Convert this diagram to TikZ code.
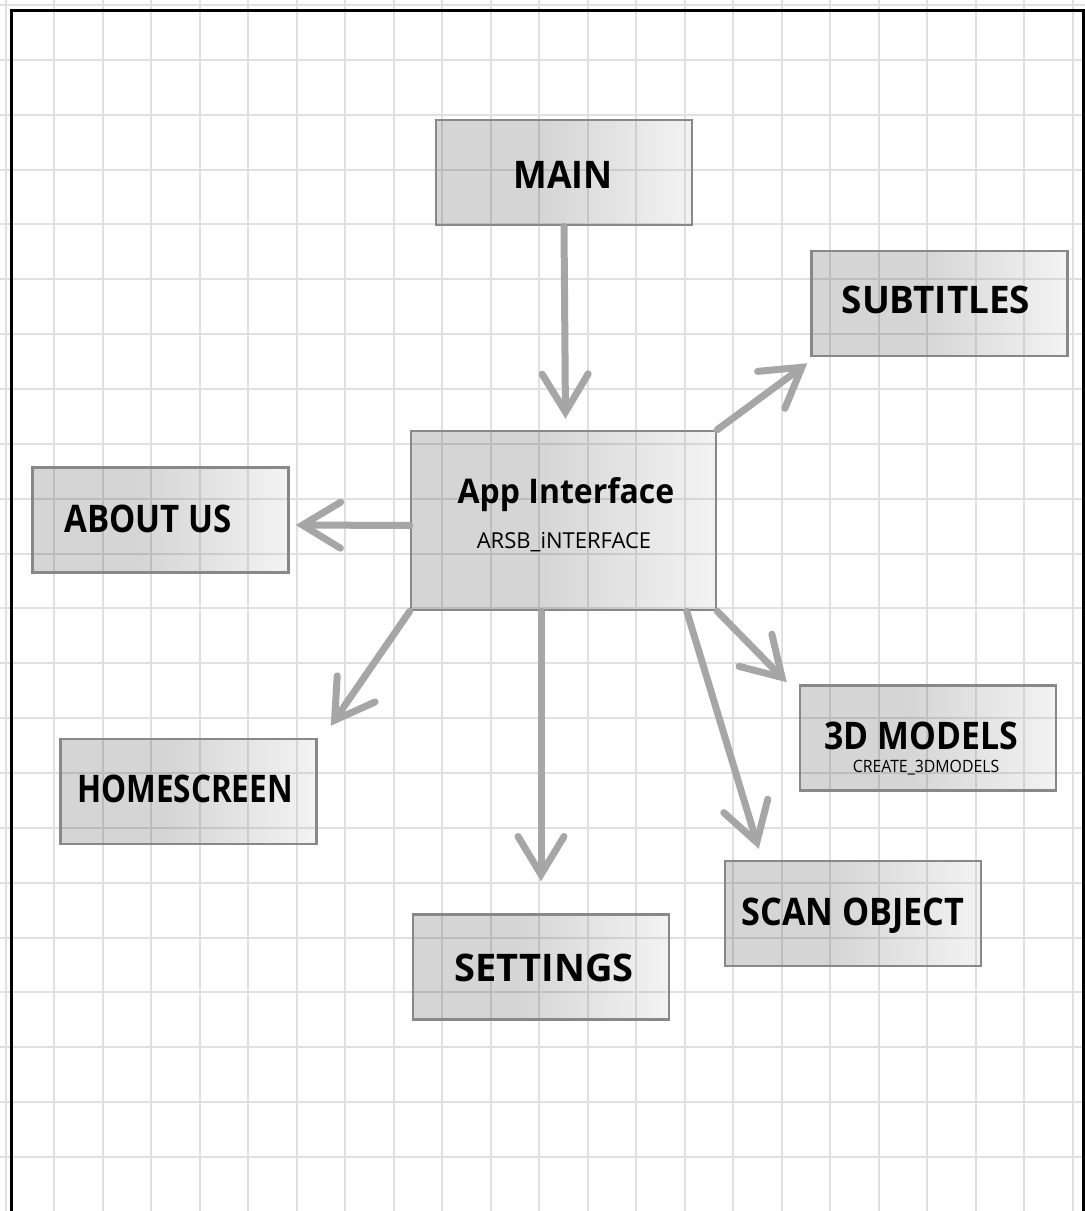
\documentclass[tikz,border=0pt]{standalone}
\usepackage{graphicx}
\usepackage{fontspec}
\setmainfont{Open Sans}
\usetikzlibrary{arrows.meta,calc}

\definecolor{gridline}{HTML}{E0E0E0}
\definecolor{boxedge}{HTML}{888888}
\definecolor{linkgray}{HTML}{A6A6A6}
\definecolor{shadeleft}{HTML}{303030}
\definecolor{shaderight}{HTML}{C4C4C4}

% horizontal gradient of the boxes: even grey, lighter towards the right edge
\pgfdeclarehorizontalshading{boxshade}{100bp}{
  color(0bp)=(shadeleft); color(25bp)=(shadeleft); color(46bp)=(shadeleft);
  color(75bp)=(shaderight); color(100bp)=(shaderight)}

% narrow a label horizontally
\newcommand{\narrow}[2]{\scalebox{#1}[1]{#2}}

\begin{document}
\begin{tikzpicture}[x=1pt,y=-1pt,
  box/.style={draw=boxedge, line width=2.5pt, shading=boxshade,
    fill opacity=0.2, draw opacity=1, minimum width=256pt, minimum height=105pt,
    inner sep=0pt},
  big/.style={font=\bfseries\fontsize{38}{42}\selectfont, anchor=base, inner sep=0pt},
  small/.style={font=\fontsize{22}{26}\selectfont, anchor=base, inner sep=0pt},
  tiny/.style={font=\fontsize{17}{20}\selectfont, anchor=base, inner sep=0pt},
  link/.style={draw=linkgray, line width=7pt, line cap=round, line join=round,
    -{Straight Barb[length=38pt,width=46pt,line width=7pt,line cap=round]}}]

\useasboundingbox (0,0) rectangle (1085,1211);
\fill[white] (0,0) rectangle (1085,1211);

% squared paper
\foreach \k in {0,...,22} {
  \draw[gridline, line width=2pt] ({5.5+48.52*\k},0) -- ({5.5+48.52*\k},1211);
  \draw[gridline, line width=2pt] (0,{5+54.86*\k}) -- (1085,{5+54.86*\k});
}

% boxes
\node[box] (main) at (564,172.5) {};
\node[box] (subtitles) at (939.5,303.5) {};
\node[box, minimum width=305pt, minimum height=179pt] (app) at (563.5,520.5) {};
\node[box] (about) at (160.5,520) {};
\node[box] (home) at (188.5,791.5) {};
\node[box] (models) at (928,738) {};
\node[box] (scan) at (853,913.5) {};
\node[box] (settings) at (541,967) {};

% box texts
\node[big] (mainlbl) at (563,188) {\narrow{0.94}{MAIN}};
\node[big] (subtitleslbl) at (936,313) {\narrow{0.97}{SUBTITLES}};
\node[big, font=\bfseries\fontsize{34}{38}\selectfont] (applbl) at (566,503) {\narrow{0.94}{App Interface}};
\node[small] (appsub) at (564,548) {ARSB\_iNTERFACE};
\node[big] (aboutlbl) at (148,532) {\narrow{0.87}{ABOUT US}};
\node[big] (homelbl) at (185,802) {\narrow{0.83}{HOMESCREEN}};
\node[big] (modelslbl) at (921,749) {\narrow{0.89}{3D MODELS}};
\node[tiny] (modelssub) at (926,772) {\narrow{0.93}{CREATE\_3DMODELS}};
\node[big] (scanlbl) at (853,925) {\narrow{0.9}{SCAN OBJECT}};
\node[big] (settingslbl) at (544,981) {SETTINGS};

% connectors
\coordinate (tipsub) at ($(subtitles.south west)+(-3,6)$);
\coordinate (tiphome) at ($(home.north east)+(13,-12)$);
\coordinate (tipmodels) at ($(models.north west)+(-12,-2)$);
\coordinate (startscan) at ($(app.south west)+(277,0)$);
\coordinate (tipscan) at ($(scan.north west)+(35,-11)$);
\coordinate (startset) at (settings.north |- app.south);
\coordinate (startabout) at ($(app.west)+(0,5)$);
\coordinate (tipabout) at ($(about.east)+(6,5)$);

\draw[link] (main.south) -- ($(app.north)+(2,-11)$) coordinate (tipapp);
\draw[link] (app.north east) -- (tipsub);
\draw[link] (startabout) -- (tipabout);
\draw[link] (app.south west) -- (tiphome);
\draw[link] (startset) -- ($(settings.north)+(0,-32)$) coordinate (tipset);
\draw[link] (startscan) -- (tipscan);
\draw[link] (app.south east) -- (tipmodels);

% page frame
\draw[black, line width=3pt] (11,1215) -- (11,10) -- (1083,10) -- (1083,1215);
\end{tikzpicture}
\end{document}
